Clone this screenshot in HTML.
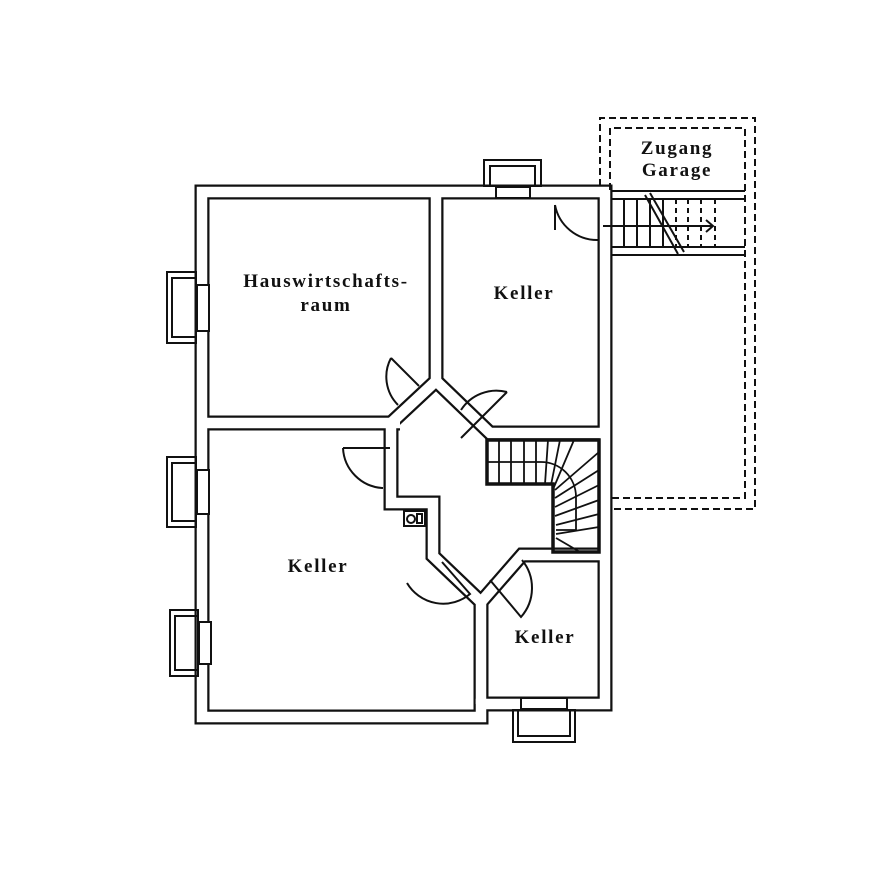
<!DOCTYPE html>
<html><head><meta charset="utf-8"><style>
html,body{margin:0;padding:0;background:#fff}
svg{display:block}
text{font-family:"Liberation Serif",serif;font-weight:bold;font-size:19px;letter-spacing:1.7px;fill:#111}
</style></head><body>
<svg width="894" height="894" viewBox="0 0 894 894" xmlns="http://www.w3.org/2000/svg">
<rect width="894" height="894" fill="#fff"/>
<g fill="none" stroke-linejoin="miter" stroke-linecap="butt">
 <g stroke="#111" stroke-width="15">
  <path d="M202,192 H605 V704 H481 V717 H202 Z"/>
  <path d="M436,192 V383"/>
  <path d="M202,423 H400"/>
  <path d="M391,423 V503 H433 V556 L481,602 V704"/>
  <path d="M391,423 L436,381 L490,433 H605"/>
  <path d="M481,602 L522,555 H605"/>
 </g>
 <g stroke="#fff" stroke-width="10.5">
  <path d="M202,192 H605 V704 H481 V717 H202 Z"/>
  <path d="M436,192 V383"/>
  <path d="M202,423 H400"/>
  <path d="M391,423 V503 H433 V556 L481,602 V704"/>
  <path d="M391,423 L436,381 L490,433 H605"/>
  <path d="M481,602 L522,555 H605"/>
 </g>
 <rect x="197" y="193" width="9" height="8" fill="#fff" stroke="none"/>
</g>
<g fill="none" stroke="#111" stroke-width="2">
 <rect x="167" y="272" width="29" height="71"/><rect x="172" y="278" width="24" height="59"/>
 <rect x="197" y="285" width="12" height="46" fill="#fff"/>
 <rect x="167" y="457" width="29" height="70"/><rect x="172" y="463" width="24" height="58"/>
 <rect x="197" y="470" width="12" height="44" fill="#fff"/>
 <rect x="170" y="610" width="28" height="66"/><rect x="175" y="616" width="23" height="54"/>
 <rect x="199" y="622" width="12" height="42" fill="#fff"/>
 <rect x="484" y="160" width="57" height="26"/><rect x="490" y="166" width="45" height="20"/>
 <rect x="496" y="187" width="34" height="11" fill="#fff"/>
 <rect x="513" y="710" width="62" height="32"/><rect x="518" y="710" width="52" height="26"/>
 <rect x="521" y="698" width="46" height="11" fill="#fff"/>
 <path d="M555,205 V230 M555,205 A43,43 0 0 0 598,240"/>
 <path d="M391,358 L419,386 M391,358 A40,40 0 0 0 398,405"/>
 <path d="M461,410 A42,42 0 0 1 507,392 M507,392 L461,438"/>
 <path d="M343,448 H390 M343,448 A42,42 0 0 0 383,488 V488"/>
 <path d="M407,583 A42,42 0 0 0 470,594 L442,562"/>
 <path d="M522,560 A44,44 0 0 1 521,617 L490,580"/>
 <rect x="404" y="511" width="21" height="15"/><circle cx="411" cy="519" r="4"/><rect x="417" y="514" width="5" height="9"/>
 <path d="M600,186 V118 H755 V509 H611" stroke-dasharray="7,4"/>
 <path d="M610,190 V128 H745 V498 H611" stroke-dasharray="7,4"/>
 <path d="M611,191 H745 M611,199 H745 M611,247 H745 M611,255 H745"/>
 <path d="M624,199 V247 M637,199 V247 M650,199 V247 M663,199 V247"/>
 <path d="M676,199 V247 M688,199 V247 M701,199 V247 M715,199 V247" stroke-dasharray="5,4"/>
 <path d="M603,226 H712 M706,220 L713,226 L706,232"/>
 <path d="M645,195 L678,254 M650,193 L684,252"/>
</g>
<g fill="none" stroke="#111">
 <path d="M487,440 H599 V552 H553 V484 H487 Z" stroke-width="3.5"/>
 <g stroke-width="1.8">
  <path d="M499,440 V484 M511,440 V484 M524,440 V484 M536,440 V484 M548,440 L545,484 M560,440 L551,485"/>
  <path d="M574,440 L554,487 M599,452 L555,490 M599,470 L555,498 M599,485 L555,507 M599,500 L555,516 M599,514 L556,525 M599,527 L556,534 M580,552 L556,538"/>
  <path d="M487,462 H540 A35,35 0 0 1 576,497 V530 H556"/>
 </g>
</g>
<text x="326" y="287" text-anchor="middle">Hauswirtschafts-</text>
<text x="326" y="311" text-anchor="middle">raum</text>
<text x="524" y="299" text-anchor="middle">Keller</text>
<text x="318" y="572" text-anchor="middle">Keller</text>
<text x="545" y="643" text-anchor="middle">Keller</text>
<text x="677" y="154" text-anchor="middle">Zugang</text>
<text x="677" y="176" text-anchor="middle">Garage</text>
</svg>
</body></html>
